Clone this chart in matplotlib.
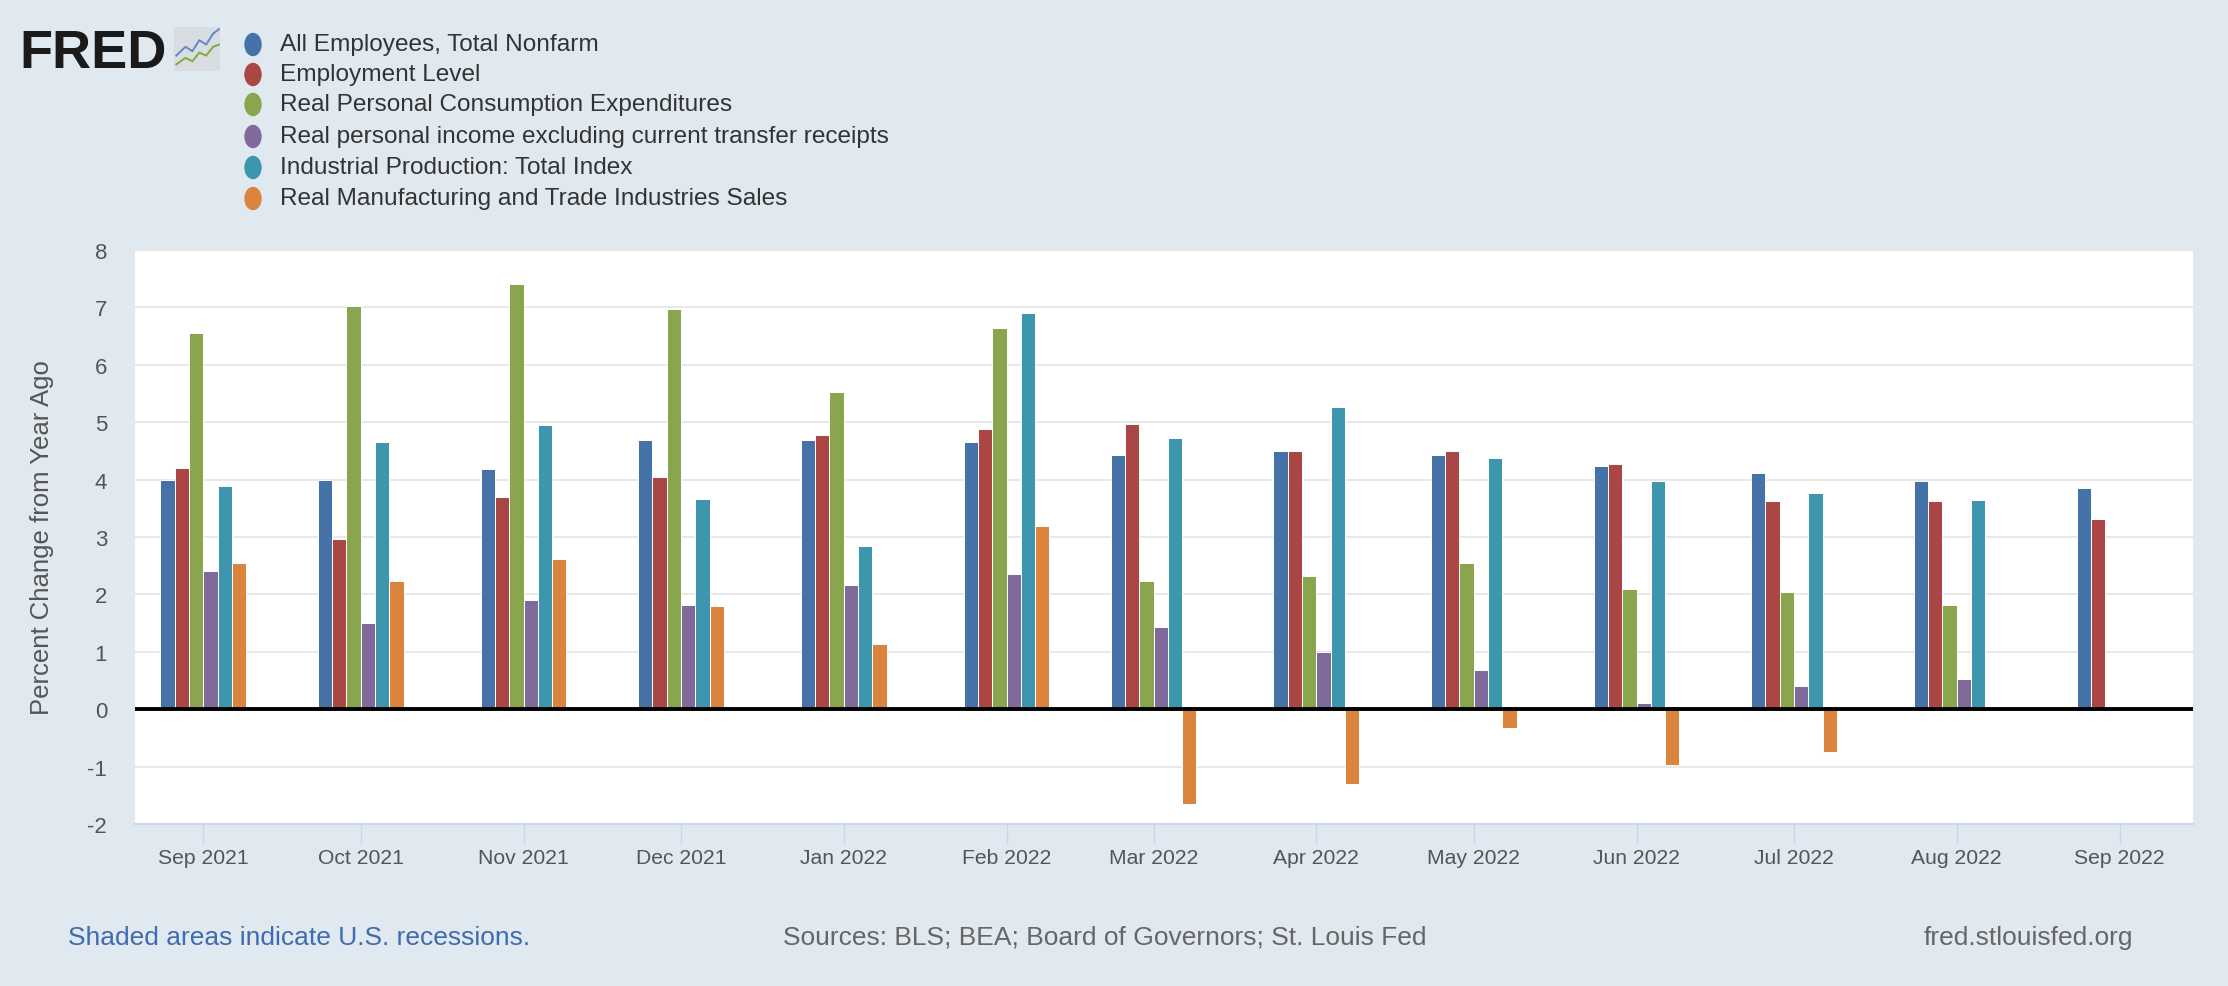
import numpy as np
import matplotlib
matplotlib.use("Agg")
import matplotlib.pyplot as plt
import matplotlib.dates as mdates
from matplotlib.patches import Ellipse
from datetime import date, timedelta

plt.rcParams['font.family'] = ['Liberation Sans', 'DejaVu Sans']
plt.rcParams['axes.unicode_minus'] = False

# ---------------- data ----------------
months = [date(2021, 9, 1), date(2021, 10, 1), date(2021, 11, 1), date(2021, 12, 1),
          date(2022, 1, 1), date(2022, 2, 1), date(2022, 3, 1), date(2022, 4, 1),
          date(2022, 5, 1), date(2022, 6, 1), date(2022, 7, 1), date(2022, 8, 1),
          date(2022, 9, 1)]
tick_labels = ["Sep 2021", "Oct 2021", "Nov 2021", "Dec 2021", "Jan 2022", "Feb 2022",
               "Mar 2022", "Apr 2022", "May 2022", "Jun 2022", "Jul 2022", "Aug 2022",
               "Sep 2022"]
series_names = ["All Employees, Total Nonfarm",
                "Employment Level",
                "Real Personal Consumption Expenditures",
                "Real personal income excluding current transfer receipts",
                "Industrial Production: Total Index",
                "Real Manufacturing and Trade Industries Sales"]
nan = np.nan
nonfarm = [4.00, 4.00, 4.19, 4.69, 4.69, 4.65, 4.42, 4.50, 4.42, 4.23, 4.12, 3.97, 3.85]
employment_level = [4.20, 2.97, 3.69, 4.04, 4.77, 4.88, 4.96, 4.50, 4.50, 4.27, 3.62, 3.62, 3.31]
real_pce = [6.56, 7.02, 7.40, 6.98, 5.53, 6.64, 2.24, 2.32, 2.55, 2.09, 2.05, 1.82, nan]
real_income_ex_transfers = [2.40, 1.51, 1.90, 1.82, 2.17, 2.36, 1.44, 0.99, 0.68, 0.11, 0.41, 0.53, nan]
industrial_production = [3.88, 4.65, 4.95, 3.66, 2.85, 6.90, 4.73, 5.26, 4.38, 3.97, 3.77, 3.65, nan]
real_mfg_trade_sales = [2.55, 2.24, 2.62, 1.79, 1.14, 3.20, -1.65, -1.31, -0.32, -0.97, -0.74, nan, nan]
series_values = [nonfarm, employment_level, real_pce, real_income_ex_transfers,
                 industrial_production, real_mfg_trade_sales]
colors = ["#4572A7", "#AA4643", "#89A54E", "#80699B", "#3D96AE", "#DB843D"]

# ---------------- figure ----------------
W, H = 2228, 987
DPI = 100
BG = "#e1e9f0"
fig = plt.figure(figsize=(W / DPI, H / DPI), dpi=DPI, facecolor=BG)

left, right, top, bottom = 135, 2193, 251, 825
ax = fig.add_axes([left / W, 1 - bottom / H, (right - left) / W, (bottom - top) / H])
ax.set_facecolor("white")

xnum = mdates.date2num(months)
slot = 2.72  # days per bar slot
n = len(series_values)
for i, (vals, c) in enumerate(zip(series_values, colors)):
    ax.bar(xnum + (i - (n - 1) / 2) * slot, vals, width=slot, color=c,
           edgecolor="white", linewidth=0.7, zorder=3)

ax.axhline(0, color="black", linewidth=2.8, zorder=4)

ax.set_ylim(-2, 8)
ax.set_yticks(range(-2, 9))
ax.set_xlim(mdates.date2num(date(2021, 9, 1) - timedelta(days=13.7)),
            mdates.date2num(date(2022, 9, 1) + timedelta(days=14.4)))
ax.set_xticks(xnum)
ax.set_xticklabels(tick_labels)

ax.grid(axis="y", color="#e6e6e6", linewidth=1.3, zorder=0)
ax.set_axisbelow(True)
for s in ["left", "right", "top"]:
    ax.spines[s].set_visible(False)
ax.spines["bottom"].set_color("#ccd6eb")
ax.spines["bottom"].set_linewidth(1.5)

ax.tick_params(axis="y", length=0, pad=20, labelsize=16, labelcolor="#555555")
ax.tick_params(axis="x", length=14.5, width=1.0, color="#ccd6eb", pad=3,
               labelsize=15.2, labelcolor="#555555")
ax.set_ylabel("Percent Change from Year Ago", fontsize=18.5, color="#555555")
ax.yaxis.set_label_coords((54 - left) / (right - left), 0.5)

# ---------------- FRED logo ----------------
fig.text(19 / W, 1 - 54 / H, "FRED", fontsize=39, fontweight="bold", color="#1a1a1a",
         va="center", ha="left")
icon = fig.add_axes([174 / W, 1 - 72 / H, 46 / W, 44 / H])
icon.set_facecolor("#d9dde2")
icon.set_xlim(0, 1)
icon.set_ylim(0, 1)
icon.set_xticks([])
icon.set_yticks([])
for s in icon.spines.values():
    s.set_visible(False)
icon.plot([0.05, 0.25, 0.4, 0.55, 0.7, 0.85, 0.98], [0.35, 0.55, 0.45, 0.7, 0.6, 0.85, 0.95],
          color="#5b8cc4", lw=1.4)
icon.plot([0.05, 0.25, 0.4, 0.55, 0.7, 0.85, 0.98], [0.15, 0.3, 0.22, 0.42, 0.35, 0.55, 0.6],
          color="#7cae3f", lw=1.4)

# ---------------- legend ----------------
leg_y = [45.5, 75.5, 105.5, 137.5, 168.5, 199.5]
for name, c, y in zip(series_names, colors, leg_y):
    fig.patches.append(Ellipse((253 / W, 1 - y / H), 16 / W, 22 / H, color=c,
                               transform=fig.transFigure, figure=fig))
    fig.text(280 / W, 1 - y / H, name, fontsize=17.6, color="#333333",
             va="center", ha="left")

# ---------------- footer ----------------
fig.text(68 / W, 1 - 938 / H, "Shaded areas indicate U.S. recessions.", fontsize=19,
         color="#3f6bb0", va="center", ha="left")
fig.text(783 / W, 1 - 938 / H, "Sources: BLS; BEA; Board of Governors; St. Louis Fed",
         fontsize=19, color="#666666", va="center", ha="left")
fig.text(2133 / W, 1 - 938 / H, "fred.stlouisfed.org", fontsize=19, color="#666666",
         va="center", ha="right")

fig.savefig("out.png", dpi=DPI, facecolor=BG)
